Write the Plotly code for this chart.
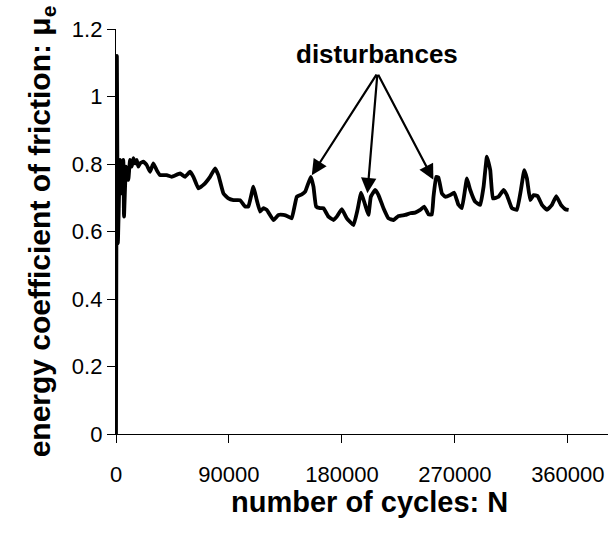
import plotly.graph_objects as go

# Energy coefficient of friction recorded over the fretting test
cycles = [0, 700, 1500, 3190, 4520, 5850, 6380, 7970, 9830, 11160, 12490, 13820,
          15150, 16480, 17800, 19130, 21790, 24450, 27100, 29760, 32420, 35080,
          40400, 44380, 51020, 55000, 58990, 61650, 65630, 69620, 74940, 78920,
          81580, 85560, 89550, 93540, 98850, 102840, 105500, 109490, 112150,
          114800, 117460, 120120, 125440, 129420, 133410, 137400, 140060, 144050,
          148040, 150700, 155200, 157330, 159440, 162630, 165290, 169280, 173270,
          175930, 179920, 183910, 189230, 192420, 195310, 198500, 201160, 203030,
          206480, 209140, 213120, 217110, 221100, 225090, 230400, 234390, 238380,
          242370, 245540, 248990, 251670, 252960, 255100, 256900, 259640, 262290,
          266270, 269460, 272880, 275590, 279580, 282240, 286230, 290220, 292880,
          295530, 298180, 300310, 304800, 308780, 311440, 315430, 319420, 322600,
          325250, 327410, 330040, 332690, 335880, 339370, 343360, 347340, 350780,
          354490, 357950, 360620]
mu_e = [0.0, 1.12, 0.565, 0.812, 0.713, 0.812, 0.644, 0.792, 0.753, 0.812, 0.792, 0.817,
        0.802, 0.812, 0.792, 0.802, 0.807, 0.797, 0.777, 0.802, 0.782, 0.767,
        0.767, 0.762, 0.772, 0.762, 0.777, 0.762, 0.728, 0.738, 0.762, 0.787,
        0.767, 0.713, 0.698, 0.693, 0.693, 0.674, 0.674, 0.733, 0.693,
        0.659, 0.669, 0.664, 0.634, 0.649, 0.649, 0.644, 0.639, 0.703,
        0.710, 0.718, 0.762, 0.733, 0.674, 0.669, 0.669, 0.644, 0.634,
        0.644, 0.666, 0.639, 0.619, 0.664, 0.715, 0.679, 0.649, 0.703,
        0.723, 0.708, 0.669, 0.639, 0.634, 0.646, 0.649, 0.654, 0.656,
        0.664, 0.674, 0.651, 0.650, 0.703, 0.762, 0.760, 0.713, 0.703,
        0.708, 0.715, 0.679, 0.669, 0.757, 0.723, 0.688, 0.679, 0.733,
        0.822, 0.782, 0.698, 0.703, 0.723, 0.708, 0.669, 0.664, 0.723,
        0.782, 0.757, 0.693, 0.708, 0.705, 0.679, 0.664, 0.679, 0.705,
        0.679, 0.666, 0.664]

x_ticks = [0, 90000, 180000, 270000, 360000]
x_tick_labels = ["0", "90000", "180000", "270000", "360000"]
y_ticks = [0, 0.2, 0.4, 0.6, 0.8, 1.0, 1.2]
y_tick_labels = ["0", "0.2", "0.4", "0.6", "0.8", "1", "1.2"]

# Peaks pointed at by the "disturbances" label, and where the arrows start
label_point = (208300, 1.069)
disturbance_cycles = [156000, 200300, 252900]
disturbance_mu = [0.767, 0.713, 0.753]

fig = go.Figure()
fig.add_trace(go.Scatter(
    x=cycles, y=mu_e, mode="lines",
    line=dict(color="black", width=3.8, shape="spline", smoothing=0.3),
    showlegend=False,
))

for xc, yc in zip(disturbance_cycles, disturbance_mu):
    fig.add_annotation(
        x=xc, y=yc, ax=label_point[0], ay=label_point[1],
        xref="x", yref="y", axref="x", ayref="y",
        text="", showarrow=True, arrowhead=2, arrowsize=1.4,
        arrowwidth=2.2, arrowcolor="black", standoff=0, startstandoff=0,
    )

fig.add_annotation(
    x=label_point[0], y=label_point[1], xref="x", yref="y",
    text="<b>disturbances</b>", showarrow=False, yanchor="bottom",
    yshift=2, font=dict(family="Liberation Sans, Arial", size=26, color="black"),
)

axis_font = dict(family="Liberation Sans, Arial", size=22, color="black")

# x-axis title placed as a paper annotation below the tick labels
fig.add_annotation(
    x=0.516, y=-0.168, xref="paper", yref="paper",
    text="<b>number of cycles: N</b>", showarrow=False,
    xanchor="center", yanchor="middle",
    font=dict(family="Liberation Sans, Arial", size=29, color="black"),
)

fig.update_xaxes(
    range=[0, 392000], tickvals=x_ticks, ticktext=x_tick_labels,
    showline=True, linecolor="black", linewidth=1.3,
    ticks="outside", ticklen=8, tickwidth=1.3, tickcolor="black",
    tickfont=axis_font, showgrid=False, zeroline=False,
    ticklabelstandoff=12,
)
fig.update_yaxes(
    range=[0, 1.2], tickvals=y_ticks, ticktext=y_tick_labels,
    showline=True, linecolor="black", linewidth=1.3,
    ticks="outside", ticklen=8, tickwidth=1.3, tickcolor="black",
    tickfont=axis_font, showgrid=False, zeroline=False,
    title=dict(text="<b>energy coefficient of friction: μ<sub>e</sub></b>",
               font=dict(family="Liberation Sans, Arial", size=30, color="black"),
               standoff=12),
)

fig.update_layout(
    width=608, height=535,
    margin=dict(l=116, r=0, t=29, b=101),
    paper_bgcolor="white", plot_bgcolor="white",
)

fig.write_html("out.html")
